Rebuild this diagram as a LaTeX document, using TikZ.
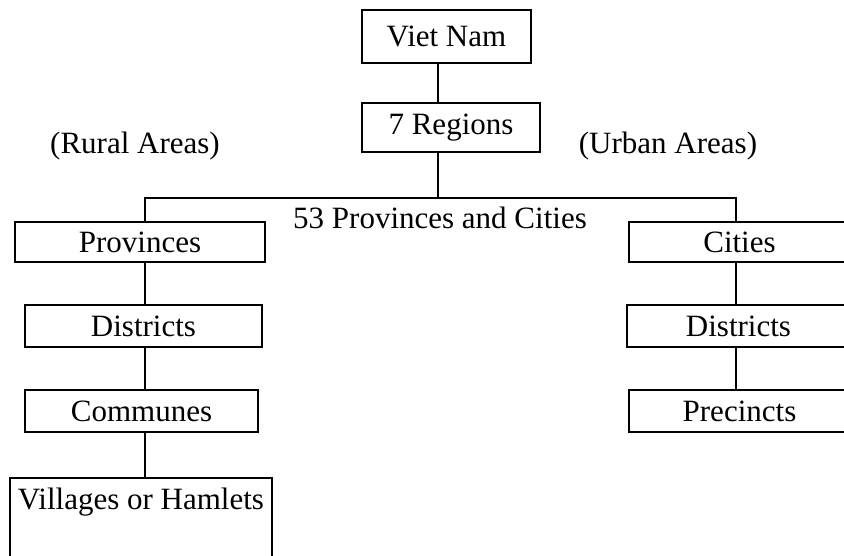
\documentclass[tikz,border=0pt]{standalone}
\usepackage{fontspec}
\setmainfont{Liberation Serif}
\begin{document}
\begin{tikzpicture}[x=1pt,y=-1pt,
  box/.style={draw, line width=1.9pt, rectangle, inner sep=0pt, font=\fontsize{31}{33}\selectfont},
  lbl/.style={inner sep=0pt, font=\fontsize{31}{33}\selectfont},
  conn/.style={line width=2.9pt}]
\clip (0,0) rectangle (844,556);
\fill[white] (0,0) rectangle (844,556);
% top
\node[box, minimum width=169, minimum height=53] (vn) at (446.5,36.5) {Viet Nam};
\node[box, minimum width=178, minimum height=49] (reg) at (451,127.5) {7 Regions};
\node[lbl] (rural) at (135,146) {(Rural Areas)};
\node[lbl] (urban) at (668,146) {(Urban Areas)};
\node[lbl] (pc) at (440,218) {53 Provinces and Cities};
% rural branch
\node[box, minimum width=250, minimum height=40] (prov) at (140,242) {Provinces};
\node[box, minimum width=237, minimum height=42] (ldist) at (143.5,326) {Districts};
\node[box, minimum width=233, minimum height=42] (comm) at (141.5,411) {Communes};
\node[box, minimum width=262, minimum height=102, text height=20pt, text depth=60pt] (vill) at (141,529) {Villages or Hamlets};
% urban branch
\node[box, minimum width=221, minimum height=40] (cities) at (739.5,242) {Cities};
\node[box, minimum width=223, minimum height=42] (rdist) at (738.5,326) {Districts};
\node[box, minimum width=221, minimum height=42] (prec) at (739.5,411) {Precincts};
% connectors
\coordinate (trunk) at (438,198);
\coordinate (lj) at (145,198);
\coordinate (rj) at (736,198);
\draw[conn] (vn.south -| trunk) -- (reg.north -| trunk);
\draw[conn] (reg.south -| trunk) -- (trunk);
\draw[line width=2.2pt, line cap=rect] (lj) -- (rj);
\draw[conn] (lj) -- (prov.north -| lj);
\draw[conn] (rj) -- (cities.north -| rj);
\draw[conn] (prov.south -| lj) -- (ldist.north -| lj);
\draw[conn] (ldist.south -| lj) -- (comm.north -| lj);
\draw[conn] (comm.south -| lj) -- (vill.north -| lj);
\draw[conn] (cities.south -| rj) -- (rdist.north -| rj);
\draw[conn] (rdist.south -| rj) -- (prec.north -| rj);
\end{tikzpicture}
\end{document}
